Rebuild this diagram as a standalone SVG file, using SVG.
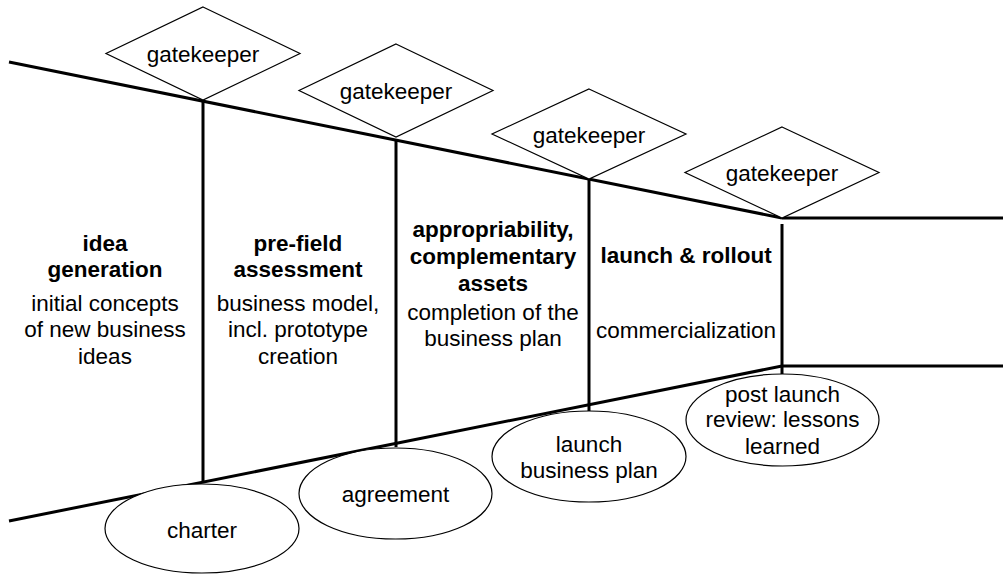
<svg xmlns="http://www.w3.org/2000/svg" width="1003" height="575" viewBox="0 0 1003 575">
<style>
text{font-family:"Liberation Sans",Arial,sans-serif;font-size:22.5px;fill:#000;text-anchor:middle}
.b{font-weight:bold}
.shape{fill:#fff;stroke:#000;stroke-width:1.2}
.thick{stroke:#000;stroke-width:3;fill:none}
</style>
<rect width="1003" height="575" fill="#fff"/>
<g id="connectors">
<line class="thick" x1="9" y1="62" x2="782" y2="218"/>
<line class="thick" x1="782" y1="218" x2="1003" y2="218"/>
<line class="thick" x1="9" y1="521" x2="782" y2="366"/>
<line class="thick" x1="782" y1="366" x2="1003" y2="366"/>
<line class="thick" x1="203" y1="100" x2="203" y2="483"/>
<line class="thick" x1="396" y1="139" x2="396" y2="447"/>
<line class="thick" x1="589" y1="179" x2="589" y2="411"/>
<line class="thick" x1="782" y1="224" x2="782" y2="378"/>
</g>
<g id="gate1"><polygon class="shape" points="203,7 300,53.5 203,100 106,53.5"/><text x="203" y="62">gatekeeper</text></g>
<g id="gate2"><polygon class="shape" points="396,44 493,90.5 396,137 299,90.5"/><text x="396" y="99">gatekeeper</text></g>
<g id="gate3"><polygon class="shape" points="589,89 686,134 589,179 492,134"/><text x="589" y="143">gatekeeper</text></g>
<g id="gate4"><polygon class="shape" points="782,127 879,172.5 782,218 685,172.5"/><text x="782" y="181">gatekeeper</text></g>
<g id="stage1">
<text class="b" x="105" y="251">idea</text>
<text class="b" x="105" y="277">generation</text>
<text x="105" y="311">initial concepts</text>
<text x="105" y="337">of new business</text>
<text x="105" y="364">ideas</text>
</g>
<g id="stage2">
<text class="b" x="298" y="251">pre-field</text>
<text class="b" x="298" y="277">assessment</text>
<text x="298" y="311">business model,</text>
<text x="298" y="337">incl. prototype</text>
<text x="298" y="364">creation</text>
</g>
<g id="stage3">
<text class="b" x="493" y="237">appropriability,</text>
<text class="b" x="493" y="264">complementary</text>
<text class="b" x="493" y="291">assets</text>
<text x="493" y="320">completion of the</text>
<text x="493" y="346">business plan</text>
</g>
<g id="stage4">
<text class="b" x="686" y="263">launch &amp; rollout</text>
<text x="686" y="338">commercialization</text>
</g>
<g id="charter"><ellipse class="shape" cx="202" cy="528.5" rx="97" ry="44.5"/><text x="202" y="538">charter</text></g>
<g id="agreement"><ellipse class="shape" cx="395.5" cy="493.5" rx="96.5" ry="45.5"/><text x="395.5" y="502">agreement</text></g>
<g id="launchplan"><ellipse class="shape" cx="589" cy="456.5" rx="97" ry="45.5"/><text x="589" y="452">launch</text><text x="589" y="478">business plan</text></g>
<g id="review"><ellipse class="shape" cx="782.5" cy="420" rx="96.5" ry="46"/><text x="782.5" y="402">post launch</text><text x="782.5" y="427">review: lessons</text><text x="782.5" y="454">learned</text></g>
</svg>
